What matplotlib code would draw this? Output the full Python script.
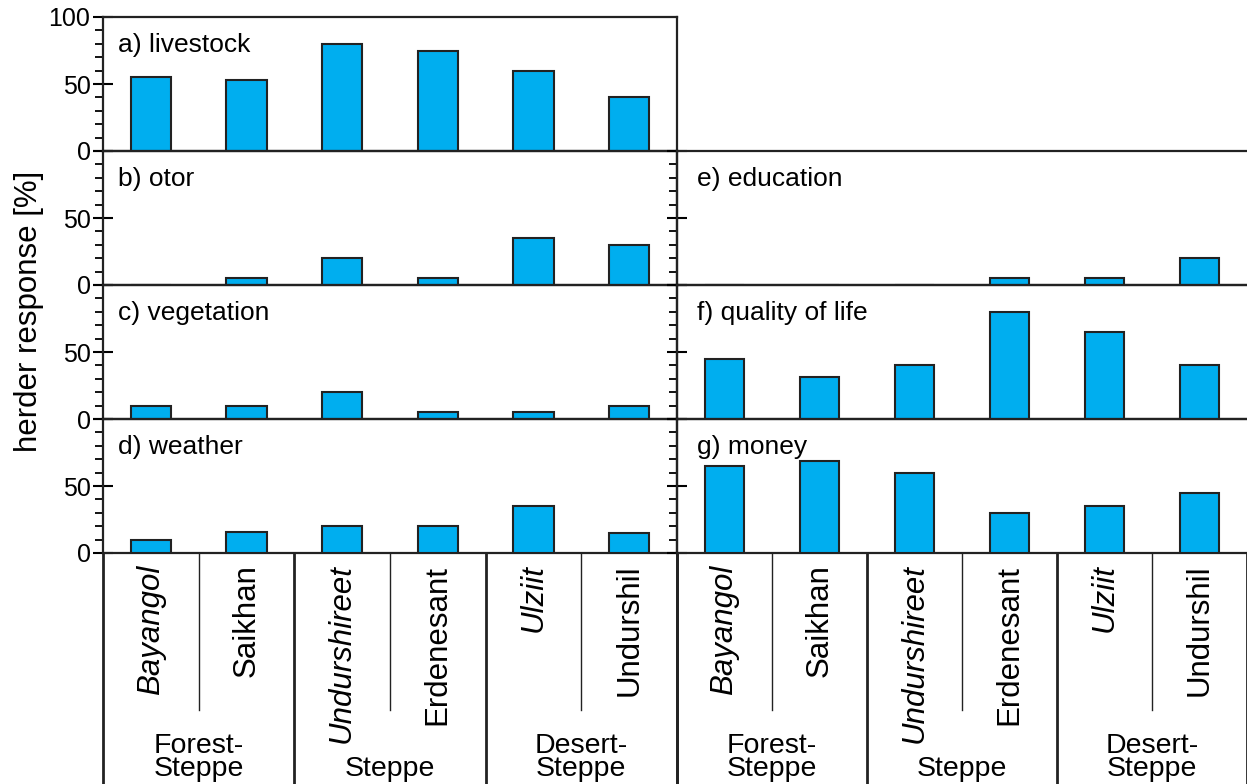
import matplotlib.pyplot as plt
from matplotlib.ticker import MultipleLocator

plt.rcParams['font.family'] = ['Liberation Sans', 'DejaVu Sans']

sites = ["Bayangol", "Saikhan", "Undurshireet", "Erdenesant", "Ulziit", "Undurshil"]
italic_sites = ["Bayangol", "Undurshireet", "Ulziit"]
zones = ["Forest-\nSteppe", "Steppe", "Desert-\nSteppe"]

livestock = [55, 53, 80, 75, 60, 40]
otor = [0, 5, 20, 5, 35, 30]
vegetation = [10, 10, 20, 5, 5, 10]
weather = [10, 16, 20, 20, 35, 15]
education = [0, 0, 0, 5, 5, 20]
quality_of_life = [45, 31, 40, 80, 65, 40]
money = [65, 69, 60, 30, 35, 45]

left_panels = [("a) livestock", livestock), ("b) otor", otor),
               ("c) vegetation", vegetation), ("d) weather", weather)]
right_panels = [("e) education", education), ("f) quality of life", quality_of_life),
                ("g) money", money)]

W, H = 1247, 784
fig = plt.figure(figsize=(W / 100, H / 100), dpi=100)

bar_color = "#00AEEF"
edge = "#222222"
x = list(range(len(sites)))

row_top = [17, 151, 285, 419]
row_h = 134


def px_axes(x0, x1, ytop, h):
    return fig.add_axes([x0 / W, 1 - (ytop + h) / H, (x1 - x0) / W, h / H])


def style(ax, labels, show_right):
    ax.set_xlim(-0.5, 5.5)
    ax.set_ylim(0, 100)
    ax.yaxis.set_major_locator(MultipleLocator(50))
    ax.yaxis.set_minor_locator(MultipleLocator(10))
    ax.tick_params(axis="y", which="major", direction="inout", length=14, width=1.5,
                   labelsize=18, pad=2)
    ax.tick_params(axis="y", which="minor", direction="out", length=5.5, width=1.3)
    ax.tick_params(axis="x", bottom=False, labelbottom=False)
    for s in ax.spines.values():
        s.set_linewidth(1.6)
        s.set_color("#222222")
    ax.spines["right"].set_visible(show_right)
    if labels is None:
        ax.set_yticklabels([])
    else:
        ax.set_yticks([0, 50, 100])
        ax.set_yticklabels(labels)
    ax.patch.set_alpha(0)


for i, (name, vals) in enumerate(left_panels):
    ax = px_axes(103, 677, row_top[i], row_h)
    ax.bar(x, vals, width=0.42, color=bar_color, edgecolor=edge, linewidth=1.5, zorder=3)
    style(ax, ["0", "50", "100"] if i == 0 else ["0", "50", ""], True)
    ax.text(0.027, 0.79, name, transform=ax.transAxes, fontsize=19, va="center", ha="left")

for i, (name, vals) in enumerate(right_panels):
    ax = px_axes(677, 1247, row_top[i + 1], row_h)
    ax.bar(x, vals, width=0.42, color=bar_color, edgecolor=edge, linewidth=1.5, zorder=3)
    style(ax, None, False)
    ax.text(0.035, 0.79, name, transform=ax.transAxes, fontsize=19, va="center", ha="left")

# category area below the panels
for x0, x1 in [(103, 677), (677, 1247)]:
    cax = px_axes(x0, x1, 553, H - 553)
    cax.set_xlim(-0.5, 5.5)
    cax.set_ylim(0, 1)
    cax.axis("off")
    for g in [-0.5, 1.5, 3.5, 5.5]:
        cax.plot([g, g], [0, 1], color="#222222", lw=2.0, clip_on=False)
    for g in [0.5, 2.5, 4.5]:
        cax.plot([g, g], [0.32, 1], color="#222222", lw=1.0, clip_on=False)
    for xi, s in zip(x, sites):
        cax.text(xi, 0.95, s, rotation=90, ha="center", va="top", fontsize=22.5,
                 style="italic" if s in italic_sites else "normal")
    for j, z in enumerate(zones):
        cax.text(2 * j + 0.5, 0.01, z, ha="center", va="bottom", fontsize=20.5,
                 linespacing=0.82)

fig.text(29 / W, 1 - 311 / H, "herder response [%]", rotation=90, ha="center",
         va="center", fontsize=22.5)

fig.savefig("out.png", dpi=100)
